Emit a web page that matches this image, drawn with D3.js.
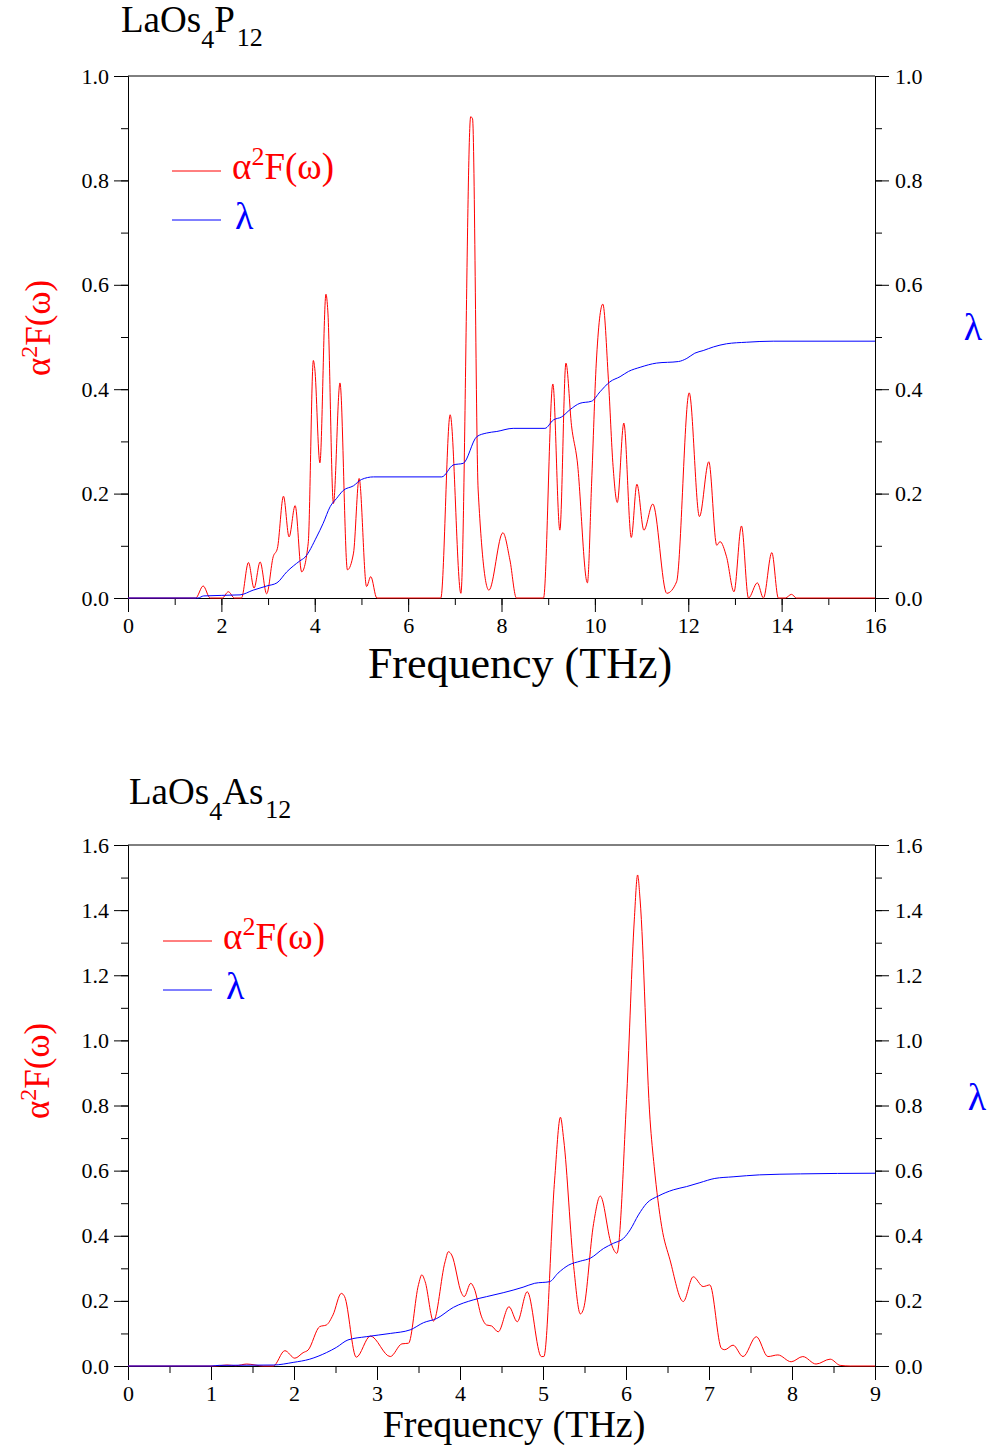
<!DOCTYPE html>
<html>
<head>
<meta charset="utf-8">
<script src="https://cdn.jsdelivr.net/npm/d3@7"></script>
<style>
body { margin: 0; background: #fff; }
text { font-family: "Liberation Serif", "Times New Roman", serif; }
</style>
</head>
<body>
<div id="chart-area"></div>
<script>
// LaOs4P12 : alpha^2 F(omega) (red) and cumulative lambda (blue)
var pFreq = [0, 1.45, 1.61, 1.76, 2.02, 2.15, 2.28, 2.43, 2.58, 2.70, 2.83, 2.97, 3.11, 3.20, 3.33, 3.45, 3.58, 3.72, 3.86, 3.97, 4.00, 4.11, 4.24, 4.28, 4.40, 4.54, 4.70, 4.83, 4.95, 5.11, 5.20, 5.33,
    6.70, 6.90, 7.13, 7.34, 7.38, 7.50, 7.73, 8.03, 8.18, 8.32, 8.90, 9.10, 9.25, 9.38, 9.50, 9.62, 9.84, 9.93, 10.03, 10.17, 10.29, 10.39, 10.48, 10.62, 10.78, 10.90, 11.05, 11.24,
    11.54, 11.75, 12.02, 12.24, 12.44, 12.61, 12.68, 12.82, 12.98, 13.14, 13.29, 13.48, 13.61, 13.79, 13.93, 14.08, 14.21, 14.32, 16];
var pA2F = [0, 0, 0.023, 0, 0, 0.012, 0, 0, 0.068, 0.019, 0.069, 0.008, 0.079, 0.095, 0.195, 0.117, 0.177, 0.050, 0.105, 0.455, 0.44, 0.259, 0.582, 0.55, 0.181, 0.412, 0.054, 0.086, 0.229, 0.022, 0.041, 0,
    0, 0.351, 0.009, 0.922, 0.918, 0.207, 0.015, 0.125, 0.073, 0, 0, 0.41, 0.13, 0.45, 0.33, 0.264, 0.029, 0.22, 0.45, 0.563, 0.418, 0.252, 0.183, 0.335, 0.116, 0.218, 0.130, 0.180,
    0.009, 0.031, 0.393, 0.156, 0.261, 0.101, 0.108, 0.079, 0.012, 0.138, 0, 0.029, 0, 0.087, 0, 0, 0.007, 0, 0];
var pLamFreq = [0, 1.50, 1.62, 2.40, 2.68, 2.97, 3.19, 3.40, 3.68, 3.79, 4.04, 4.18, 4.33, 4.47, 4.61, 4.83, 5.00, 5.26, 6.72, 6.97, 7.18, 7.47, 7.68, 7.90, 8.25, 8.93,
    9.11, 9.29, 9.47, 9.68, 9.93, 10.11, 10.32, 10.54, 10.72, 10.97, 11.32, 11.79, 11.97, 12.14, 12.32, 12.54, 12.82, 13.25, 13.82, 16];
var pLam = [0, 0, 0.004, 0.006, 0.015, 0.023, 0.029, 0.050, 0.071, 0.078, 0.117, 0.143, 0.175, 0.191, 0.206, 0.215, 0.227, 0.232, 0.232, 0.255, 0.258, 0.309, 0.316, 0.319, 0.325, 0.325,
    0.341, 0.347, 0.361, 0.373, 0.377, 0.395, 0.414, 0.424, 0.434, 0.442, 0.450, 0.453, 0.459, 0.469, 0.474, 0.481, 0.487, 0.490, 0.492, 0.492];

// LaOs4As12
var asFreq = [0, 1.05, 1.19, 1.30, 1.43, 1.63, 1.75, 1.89, 2.01, 2.11, 2.17, 2.31, 2.39, 2.47, 2.57, 2.61, 2.75, 2.92, 3.16, 3.30, 3.38, 3.50, 3.54, 3.58, 3.68, 3.82, 3.86, 3.90,
    4.02, 4.05, 4.13, 4.17, 4.26, 4.32, 4.38, 4.46, 4.59, 4.69, 4.81, 4.98, 5.01, 5.14, 5.21, 5.25, 5.37, 5.45, 5.49, 5.61, 5.69, 5.82, 5.89, 6.01, 6.10, 6.14, 6.17,
    6.29, 6.34, 6.43, 6.53, 6.69, 6.81, 6.93, 7.01, 7.15, 7.19, 7.29, 7.41, 7.57, 7.71, 7.83, 7.99, 8.13, 8.29, 8.46, 8.58, 8.70, 9];
var asA2F = [0, 0, 0.003, 0.001, 0.006, 0, 0, 0.047, 0.024, 0.041, 0.049, 0.121, 0.126, 0.157, 0.223, 0.213, 0.027, 0.092, 0.029, 0.068, 0.070, 0.25, 0.28, 0.259, 0.138, 0.320, 0.351, 0.341,
    0.223, 0.213, 0.254, 0.239, 0.151, 0.126, 0.123, 0.105, 0.182, 0.136, 0.228, 0.029, 0.029, 0.571, 0.764, 0.694, 0.305, 0.160, 0.177, 0.438, 0.522, 0.377, 0.346, 0.838, 1.370, 1.508, 1.431,
    0.756, 0.612, 0.428, 0.326, 0.198, 0.274, 0.244, 0.249, 0.054, 0.050, 0.064, 0.029, 0.090, 0.029, 0.034, 0.013, 0.029, 0.006, 0.021, 0.002, 0, 0];
var asLamFreq = [0, 1.0, 1.1, 1.75, 1.99, 2.19, 2.39, 2.51, 2.65, 2.87, 3.16, 3.40, 3.56, 3.72, 3.92, 4.16, 4.32, 4.52, 4.76, 4.90, 5.08, 5.18, 5.31, 5.45, 5.57, 5.73, 5.85, 5.97,
    6.05, 6.15, 6.25, 6.39, 6.57, 6.73, 6.89, 7.07, 7.29, 7.61, 8.10, 9.0];
var asLam = [0, 0, 0.002, 0.003, 0.011, 0.021, 0.041, 0.057, 0.080, 0.090, 0.100, 0.111, 0.133, 0.146, 0.180, 0.203, 0.213, 0.225, 0.242, 0.254, 0.259, 0.285, 0.310, 0.322, 0.331, 0.361, 0.377, 0.392,
    0.418, 0.464, 0.500, 0.522, 0.541, 0.551, 0.563, 0.576, 0.581, 0.587, 0.590, 0.592];

var svg = d3.select('#chart-area')
    .append('svg')
        .attr('width', 994)
        .attr('height', 1449)
        .style('background', '#fff');

function drawPanel(o) {
    var g = svg.append('g');

    var x = d3.scaleLinear().domain([0, o.xMax]).range([128, 875]);
    var y = d3.scaleLinear().domain([0, o.yMax]).range([o.bottom, o.top]);

    // minor ticks
    var xMinor = d3.range(0, o.xMax + 1e-9, o.xMinor);
    var yMinor = d3.range(0, o.yMax + 1e-9, 0.1);

    g.append('g')
        .attr('transform', 'translate(0,' + o.bottom + ')')
        .call(d3.axisBottom(x).tickValues(xMinor).tickSize(7).tickSizeOuter(0).tickFormat(''));
    g.append('g')
        .attr('transform', 'translate(128,0)')
        .call(d3.axisLeft(y).tickValues(yMinor).tickSize(7).tickSizeOuter(0).tickFormat(''));
    g.append('g')
        .attr('transform', 'translate(875,0)')
        .call(d3.axisRight(y).tickValues(yMinor).tickSize(7).tickSizeOuter(0).tickFormat(''));

    // major ticks with labels
    var xMajor = d3.range(0, o.xMax + 1e-9, o.xStep);
    var yMajor = d3.range(0, o.yMax + 1e-9, 0.2);

    g.append('g')
        .attr('class', 'axis')
        .attr('transform', 'translate(0,' + o.bottom + ')')
        .call(d3.axisBottom(x).tickValues(xMajor).tickSize(14).tickPadding(5).tickSizeOuter(0).tickFormat(d3.format('d')));
    g.append('g')
        .attr('class', 'axis')
        .attr('transform', 'translate(128,0)')
        .call(d3.axisLeft(y).tickValues(yMajor).tickSize(14).tickPadding(5).tickSizeOuter(0).tickFormat(d3.format('.1f')));
    g.append('g')
        .attr('class', 'axis')
        .attr('transform', 'translate(875,0)')
        .call(d3.axisRight(y).tickValues(yMajor).tickSize(14).tickPadding(6).tickSizeOuter(0).tickFormat(d3.format('.1f')));

    g.selectAll('.axis text')
        .attr('font-size', '22px')
        .attr('font-family', '"Liberation Serif", serif')
        .attr('fill', '#000');
    g.selectAll('.tick line').attr('stroke', '#000');

    // top frame line
    g.append('line')
        .attr('x1', 128).attr('x2', 875)
        .attr('y1', o.top).attr('y2', o.top)
        .attr('stroke', '#000');

    var line = d3.line()
        .x(d => x(d[0]))
        .y(d => y(d[1]))
        .curve(d3.curveMonotoneX);

    g.append('path')
        .datum(d3.zip(o.freq, o.a2f))
        .attr('d', line)
        .attr('fill', 'none')
        .attr('stroke', '#ff0000')
        .attr('stroke-width', 1);

    g.append('path')
        .datum(d3.zip(o.lamFreq, o.lam))
        .attr('d', line)
        .attr('fill', 'none')
        .attr('stroke', '#0000ff')
        .attr('stroke-width', 1);

    // title with subscripts
    var t = g.append('text')
        .attr('x', o.titleX)
        .attr('y', o.titleY)
        .attr('font-size', '37px');
    t.append('tspan').text('LaOs');
    t.append('tspan').attr('font-size', '26px').attr('dy', 16).text('4');
    t.append('tspan').attr('dy', -16).text(o.anion);
    t.append('tspan').attr('font-size', '26px').attr('dy', 14).attr('dx', 2).text('12');

    // x axis title
    g.append('text')
        .attr('text-anchor', 'middle')
        .attr('x', o.xTitleX)
        .attr('y', o.xTitleY)
        .attr('font-size', o.xTitleSize)
        .text('Frequency (THz)');

    // left y label
    var yl = g.append('text')
        .attr('text-anchor', 'middle')
        .attr('transform', 'translate(' + o.yLabelX + ',' + o.yLabelY + ') rotate(-90)')
        .attr('font-size', '35px')
        .attr('fill', '#ff0000');
    yl.append('tspan').text('α');
    yl.append('tspan').attr('font-size', '24px').attr('dy', -13).text('2');
    yl.append('tspan').attr('dy', 13).text('F(ω)');

    // right y label
    g.append('text')
        .attr('text-anchor', 'middle')
        .attr('x', o.rLabelX)
        .attr('y', o.rLabelY)
        .attr('font-size', '38px')
        .attr('fill', '#0000ff')
        .text('λ');

    // legend
    g.append('line')
        .attr('x1', o.legX).attr('x2', o.legX + 49)
        .attr('y1', o.legY).attr('y2', o.legY)
        .attr('stroke', '#ff0000');
    var lt = g.append('text')
        .attr('x', o.legX + 60)
        .attr('y', o.legY + 8)
        .attr('font-size', '37px')
        .attr('fill', '#ff0000');
    lt.append('tspan').text('α');
    lt.append('tspan').attr('font-size', '26px').attr('dy', -14).text('2');
    lt.append('tspan').attr('dy', 14).text('F(ω)');

    g.append('line')
        .attr('x1', o.legX).attr('x2', o.legX + 49)
        .attr('y1', o.legY + 49).attr('y2', o.legY + 49)
        .attr('stroke', '#0000ff');
    g.append('text')
        .attr('x', o.legX + 63)
        .attr('y', o.legY + 58)
        .attr('font-size', '38px')
        .attr('fill', '#0000ff')
        .text('λ');
}

drawPanel({
    top: 76, bottom: 598, xMax: 16, xStep: 2, xMinor: 1, yMax: 1.0,
    freq: pFreq, a2f: pA2F, lamFreq: pLamFreq, lam: pLam,
    titleX: 121, titleY: 32, anion: 'P',
    xTitleX: 520, xTitleY: 678, xTitleSize: '44px',
    yLabelX: 50, yLabelY: 328, rLabelX: 973, rLabelY: 340,
    legX: 172, legY: 171
});

drawPanel({
    top: 845, bottom: 1366, xMax: 9, xStep: 1, xMinor: 0.5, yMax: 1.6,
    freq: asFreq, a2f: asA2F, lamFreq: asLamFreq, lam: asLam,
    titleX: 129, titleY: 804, anion: 'As',
    xTitleX: 514, xTitleY: 1437, xTitleSize: '38px',
    yLabelX: 49, yLabelY: 1071, rLabelX: 977, rLabelY: 1110,
    legX: 163, legY: 941
});
</script>
</body>
</html>
